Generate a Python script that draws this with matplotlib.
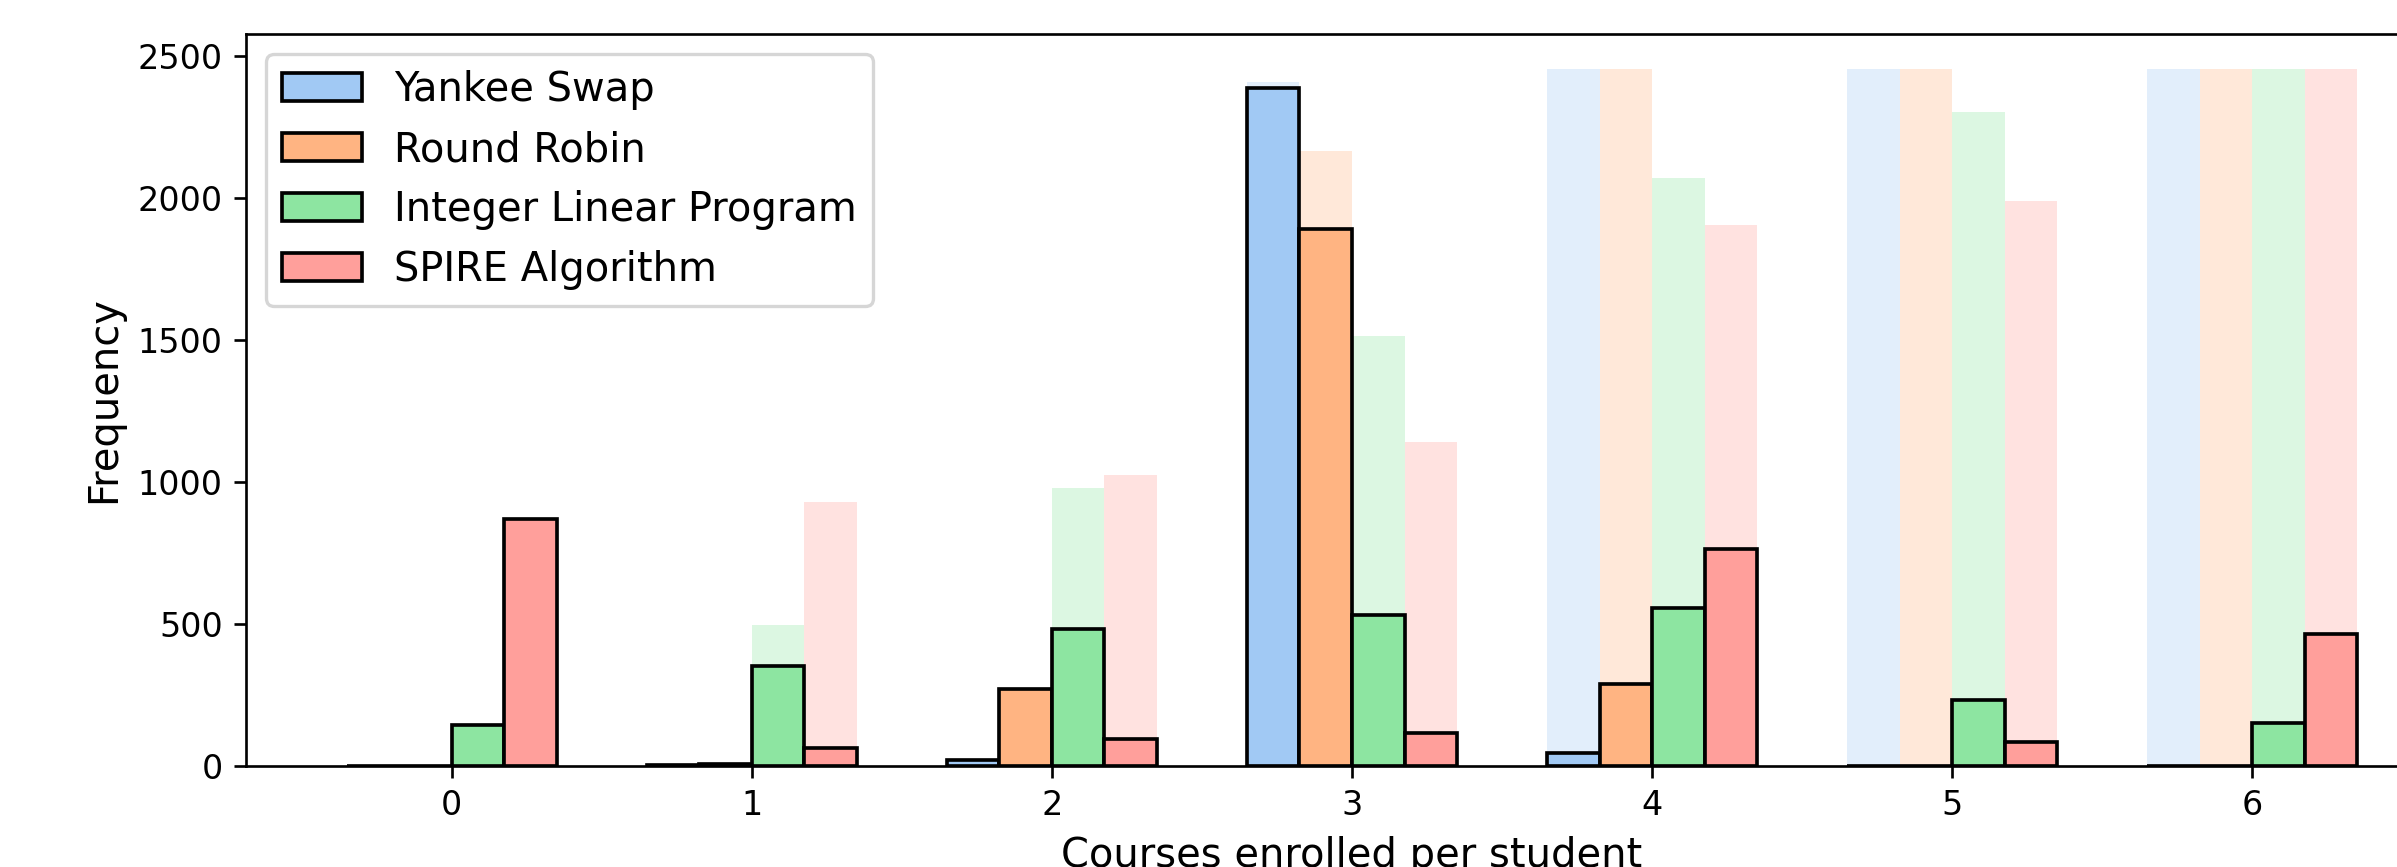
import numpy as np
import matplotlib
matplotlib.use("Agg")
import matplotlib.pyplot as plt

# Number of courses each student ended up enrolled in
courses = [0, 1, 2, 3, 4, 5, 6]

series_names = ["Yankee Swap", "Round Robin", "Integer Linear Program", "SPIRE Algorithm"]
yankee_swap = [0, 2, 20, 2387, 47, 0, 0]
round_robin = [0, 6, 270, 1891, 289, 0, 0]
integer_lp = [143, 354, 484, 533, 558, 232, 152]
spire = [869, 62, 94, 117, 764, 84, 466]

colors = ["#a1c9f4", "#ffb482", "#8de5a1", "#ff9f9b"]

W, H, DPI = 2397, 867, 240
fig = plt.figure(figsize=(W / DPI, H / DPI), dpi=DPI)
ax = fig.add_axes([246 / W, 101 / H, 2212 / W, 732 / H])

x = np.array(courses, dtype=float)
n = len(series_names)
bar_w = 0.7 / n
all_counts = [yankee_swap, round_robin, integer_lp, spire]

# Cumulative totals drawn faintly behind the per-count bars
for i, (counts, col) in enumerate(zip(all_counts, colors)):
    left = x - 0.35 + i * bar_w
    ax.bar(left, np.cumsum(counts), width=bar_w, align="edge",
           color=col, alpha=0.3, linewidth=0, zorder=1)

for i, (name, counts, col) in enumerate(zip(series_names, all_counts, colors)):
    left = x - 0.35 + i * bar_w
    ax.bar(left, counts, width=bar_w, align="edge", color=col,
           edgecolor="black", linewidth=1.1, label=name, zorder=2)

ax.set_xticks(courses)
ax.tick_params(labelsize=10)
ax.margins(x=0.05)
ax.set_ylim(0, 2456 * 1.05)
ax.set_xlabel("Courses enrolled per student", fontsize=12)
ax.set_ylabel("Frequency", fontsize=12)
ax.legend(loc="upper left", fontsize=12)

fig.savefig("out.png", dpi=DPI)
